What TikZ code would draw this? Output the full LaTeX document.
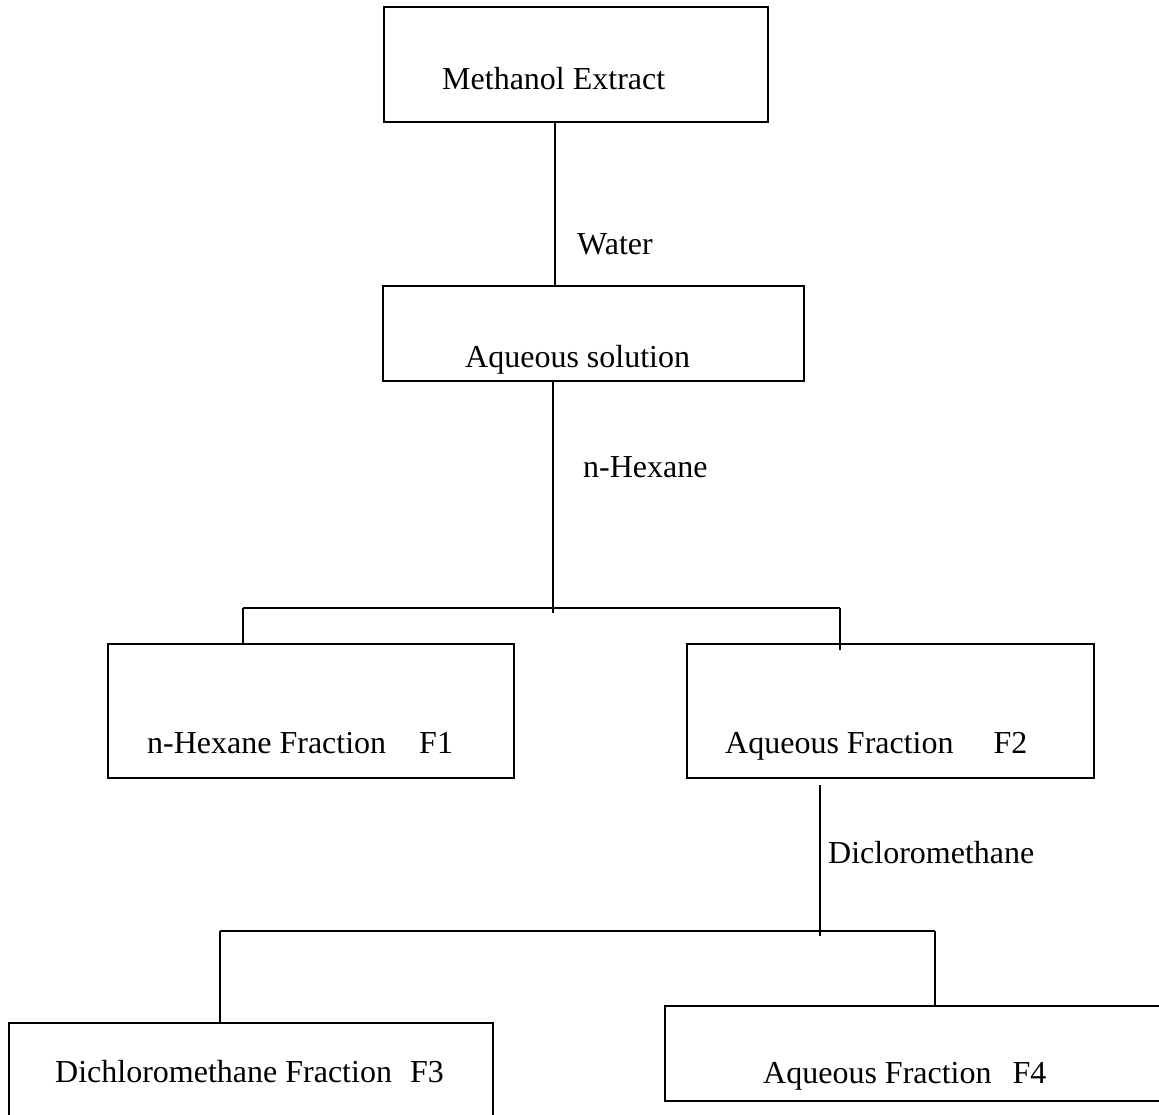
\documentclass[tikz,border=0pt]{standalone}
\usepackage{fontspec}
\setmainfont{Liberation Serif}
\begin{document}
\begin{tikzpicture}[x=1pt,y=-1pt,
  box/.style={draw=black, line width=2pt, rectangle, inner sep=0pt, anchor=north west},
  conn/.style={draw=black, line width=2pt},
  txt/.style={anchor=base west, inner sep=0pt, font=\fontsize{32}{38}\selectfont}]
\useasboundingbox (0,0) rectangle (1159,1115);
\clip (0,0) rectangle (1159,1115);
\fill[white] (0,0) rectangle (1159,1115);
% boxes
\node[box, minimum width=384pt, minimum height=115pt] (b1) at (383,6) {};
\node[box, minimum width=421pt, minimum height=95pt]  (b2) at (382,285) {};
\node[box, minimum width=406pt, minimum height=134pt] (b3) at (107,643) {};
\node[box, minimum width=407pt, minimum height=134pt] (b4) at (686,643) {};
\node[box, minimum width=484pt, minimum height=110pt] (b5) at (8,1022) {};
\node[box, minimum width=510pt, minimum height=95pt]  (b6) at (664,1005) {};
% texts
\node[txt] (t1) at (442,90) {Methanol Extract};
\node[txt] (t2) at (465,367) {Aqueous solution};
\node[txt] (t3) at (147,753) {n-Hexane Fraction\hspace{33pt}F1};
\node[txt] (t4) at (725,753) {Aqueous Fraction\hspace{40pt}F2};
\node[txt] (t5) at (55,1082) {Dichloromethane Fraction\hspace{18pt}F3};
\node[txt] (t6) at (763,1083) {Aqueous Fraction\hspace{21pt}F4};
\node[txt] (l1) at (577,255) {Water};
\node[txt] (l2) at (583,477) {n-Hexane};
\node[txt] (l3) at (828,863) {Dicloromethane};
% junction coordinates
\coordinate (x1) at (555,0);
\coordinate (j1) at (553,608);
\coordinate (j1b) at (553,613);
\coordinate (j1l) at (243,608);
\coordinate (j1r) at (840,608);
\coordinate (e1r) at (840,650);
\coordinate (s2) at (820,785);
\coordinate (j2) at (820,931);
\coordinate (j2b) at (820,936);
\coordinate (j2l) at (220,931);
\coordinate (j2r) at (935,931);
% connectors
\draw[conn] (b1.south -| x1) -- (b2.north -| x1);
\draw[conn] (b2.south -| j1) -- (j1b);
\draw[conn] (j1l) -- (j1r);
\draw[conn] (j1l) -- (b3.north -| j1l);
\draw[conn] (j1r) -- (e1r);
\draw[conn] (s2) -- (j2b);
\draw[conn] (j2l) -- (j2r);
\draw[conn] (j2l) -- (b5.north -| j2l);
\draw[conn] (j2r) -- (b6.north -| j2r);
\end{tikzpicture}
\end{document}
